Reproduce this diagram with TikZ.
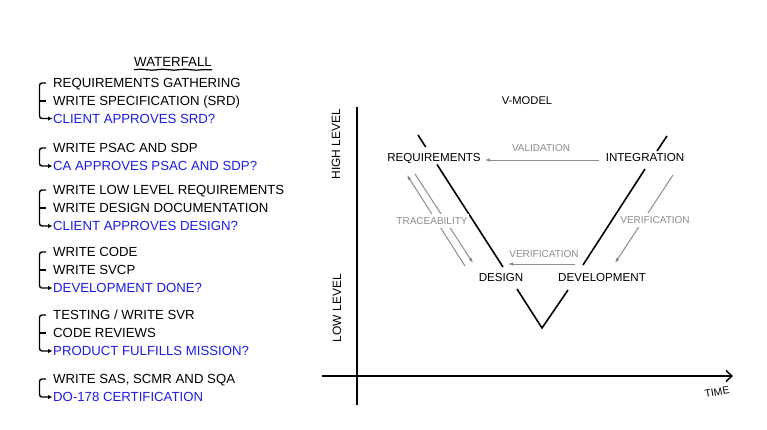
\documentclass[tikz,border=0pt]{standalone}
\usepackage{fontspec}
\setmainfont{Liberation Sans}
\usetikzlibrary{arrows.meta,calc,decorations.pathmorphing}
\definecolor{qblue}{RGB}{28,28,230}
\definecolor{vgray}{RGB}{140,140,140}
\begin{document}
\begin{tikzpicture}[x=1pt,y=-1pt,
  item/.style={anchor=west,inner sep=0pt,text height=9.4pt,text depth=0pt,font=\fontsize{13.2}{15}\selectfont},
  ask/.style={item,text=qblue},
  brk/.style={line width=1.4pt,rounded corners=2.5pt},
  brkarr/.style={brk,-{Latex[length=4.5pt,width=4.5pt]}},
  vlab/.style={inner sep=0pt,text height=8.3pt,text depth=0pt,font=\fontsize{11.6}{13}\selectfont},
  glab/.style={inner xsep=1pt,inner ysep=3.5pt,fill=white,text=vgray,text height=7.2pt,text depth=0pt,font=\fontsize{10}{12}\selectfont},
  garr/.style={draw=vgray,line width=1pt,-{Latex[length=5pt,width=3.8pt]}},
  vline/.style={line width=1.6pt},
  axis/.style={line width=1.4pt},
  axlab/.style={inner sep=0pt,font=\fontsize{12}{14}\selectfont}]
\useasboundingbox (0,0) rectangle (767,429);

% ---------- Waterfall list ----------
\node[inner sep=0pt,text height=9.4pt,text depth=0pt,font=\fontsize{13.3}{15}\selectfont] (wf) at (173,62) {WATERFALL};
\draw[line width=1.2pt,decorate,decoration={snake,amplitude=0.5pt,segment length=22pt}]
  ([yshift=-2.8pt]wf.south west) -- ([yshift=-2.8pt]wf.south east);

\node[item] (a1) at (53,83) {REQUIREMENTS GATHERING};
\node[item] (a2) at (53,101) {WRITE SPECIFICATION (SRD)};
\node[ask]  (a3) at (53,118.5) {CLIENT APPROVES SRD?};
\node[item] (b1) at (53,148) {WRITE PSAC AND SDP};
\node[ask]  (b2) at (53,166) {CA APPROVES PSAC AND SDP?};
\node[item] (c1) at (53,190) {WRITE LOW LEVEL REQUIREMENTS};
\node[item] (c2) at (53,208) {WRITE DESIGN DOCUMENTATION};
\node[ask]  (c3) at (53,226) {CLIENT APPROVES DESIGN?};
\node[item] (d1) at (53,252) {WRITE CODE};
\node[item] (d2) at (53,270) {WRITE SVCP};
\node[ask]  (d3) at (53,288) {DEVELOPMENT DONE?};
\node[item] (e1) at (53,315) {TESTING / WRITE SVR};
\node[item] (e2) at (53,333) {CODE REVIEWS};
\node[ask]  (e3) at (53,351) {PRODUCT FULFILLS MISSION?};
\node[item] (f1) at (53,379) {WRITE SAS, SCMR AND SQA};
\node[ask]  (f2) at (53,397) {DO-178 CERTIFICATION};

% brackets
\draw[brkarr] ([xshift=-7pt]a1.west) -- ([xshift=-13.5pt]a1.west) |- ([xshift=-0.5pt]a3.west);
\draw[brk] ([xshift=-13.5pt]a2.west) -- ([xshift=-7pt]a2.west);
\draw[brkarr] ([xshift=-7pt]b1.west) -- ([xshift=-13.5pt]b1.west) |- ([xshift=-0.5pt]b2.west);
\draw[brkarr] ([xshift=-7pt]c1.west) -- ([xshift=-13.5pt]c1.west) |- ([xshift=-0.5pt]c3.west);
\draw[brk] ([xshift=-13.5pt]c2.west) -- ([xshift=-7pt]c2.west);
\draw[brkarr] ([xshift=-7pt]d1.west) -- ([xshift=-13.5pt]d1.west) |- ([xshift=-0.5pt]d3.west);
\draw[brk] ([xshift=-13.5pt]d2.west) -- ([xshift=-7pt]d2.west);
\draw[brkarr] ([xshift=-7pt]e1.west) -- ([xshift=-13.5pt]e1.west) |- ([xshift=-0.5pt]e3.west);
\draw[brk] ([xshift=-13.5pt]e2.west) -- ([xshift=-7pt]e2.west);
\draw[brkarr] ([xshift=-7pt]f1.west) -- ([xshift=-13.5pt]f1.west) |- ([xshift=-0.5pt]f2.west);

% ---------- V-model ----------
\node[inner sep=0pt,font=\fontsize{11.2}{13}\selectfont] (vm) at (527,101) {V-MODEL};

\coordinate (yt) at (357,107);
\coordinate (yb) at (357,405);
\coordinate (xl) at (322,376);
\coordinate (xr) at (733,376);
\draw[axis] (yt) -- (yb);
\draw[axis,-{Straight Barb[length=6pt,width=11pt]}] (xl) -- (xr);
\node[axlab,rotate=90] (hl) at (336,144) {HIGH LEVEL};
\node[axlab,rotate=90] (ll) at (337,308) {LOW LEVEL};
\node[inner sep=0pt,font=\fontsize{10.5}{12}\selectfont,rotate=10] (tm) at (717,392) {TIME};

\node[vlab] (req) at (434,157) {REQUIREMENTS};
\node[vlab] (int) at (645,157) {INTEGRATION};
\node[vlab] (des) at (501,277) {DESIGN};
\node[vlab] (dev) at (602,277) {DEVELOPMENT};

% V lines
\coordinate (v1) at (418,135);
\coordinate (v2) at (425.7,147);
\coordinate (v3) at (437,164.5);
\coordinate (v4) at (503,267);
\coordinate (v5) at (517,289);
\coordinate (v6) at (542,328);
\coordinate (v7) at (568,290);
\coordinate (v8) at (583,265);
\coordinate (v9) at (645,169);
\coordinate (v10) at (657,151);
\coordinate (v11) at (667,136);
\draw[vline] (v1) -- (v2);
\draw[vline] (v3) -- (v4);
\draw[vline] (v5) -- (v6) -- (v7);
\draw[vline] (v8) -- (v9);
\draw[vline] (v10) -- (v11);

% gray arrows
\draw[garr] ($(int.west)+(-7,3)$) -- ($(req.east)+(4,3)$);
\node[glab] (val) at (541,148) {VALIDATION};

\draw[garr] ($(des)+(-36,-11)$) -- ($(req)+(-27,18)$);
\draw[garr] ($(req)+(-19,17)$) -- ($(des)+(-28,-14)$);
\node[glab] (tr) at (432,221) {TRACEABILITY};

\draw[garr] ($(int)+(28,18)$) -- ($(dev)+(13,-14)$);
\node[glab] (ver1) at (655,220) {VERIFICATION};

\draw[garr] ($(dev)+(-27,-13)$) -- ($(des)+(7,-13)$);
\node[glab] (ver2) at (544,254) {VERIFICATION};
\end{tikzpicture}
\end{document}
